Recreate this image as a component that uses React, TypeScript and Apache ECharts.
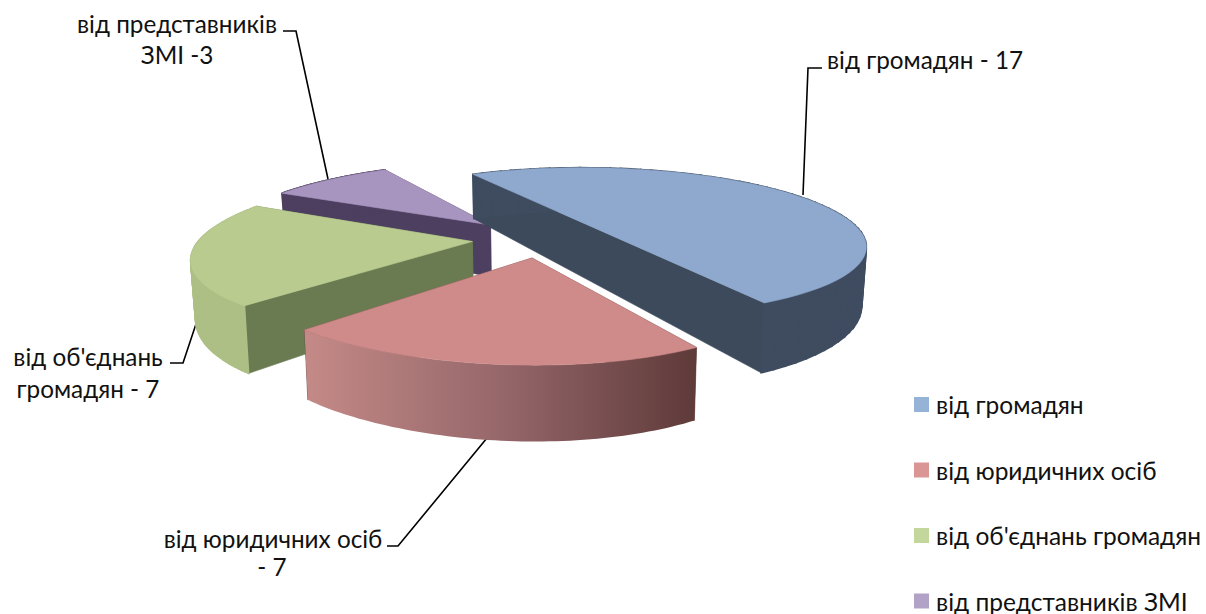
import React, { useEffect, useRef } from "react";
import * as echarts from "echarts";

const categories = ["від громадян", "від юридичних осіб", "від об'єднань громадян", "від представників ЗМІ"];
const seriesValues = [17, 7, 7, 3];

// Look of each slice: top face, radial wall, legend swatch
const topColors = ["#8ea9cd", "#cf8b89", "#b9cb8f", "#a895bf"];
const sideColors = ["#3c4a5c", "#6b4342", "#6a7b52", "#4d3f60"];
const legendColors = ["#95b3d7", "#d99694", "#c3d69b", "#b2a2c7"];

// Scene geometry (world units), slices drawn back to front
const drawOrder = [3, 0, 2, 1];
const explodeX = [0.168, -0.026, -0.232, -0.18];
const explodeZ = [-0.09, 0.308, 0.125, -0.08];
const radiusStart = [0.935, 0.84, 0.86, 1.0];
const radiusEnd = [0.935, 0.853, 0.99, 1.05];
const radiusBulge = [0.042, -0.015, 0, 0];
const wallGains = [0.198, 0.184, 0.19, 0.188];
const startAngle = -120;
const vanishX = 540;
const horizonY = -50;
const t0 = 0.003556;
const depthGain = 0.001004;
const wallShrink = 0.014;

const total = seriesValues.reduce((a, b) => a + b, 0);
const boundaries: number[] = [startAngle];
seriesValues.forEach((v, i) => boundaries.push(boundaries[i] + (v / total) * 360));

function project(X: number, Z: number, wall: number | null): number[] {
  const s = 1 / (t0 - depthGain * Z);
  if (wall === null) return [vanishX + s * X, horizonY + s];
  return [vanishX + s * (1 - wallShrink) * X, horizonY + s * (1 + wall)];
}

function renderSlice(index: number) {
  return (_params: any, api: any) => {
    const frac = api.value(0) / total;
    const a0 = boundaries[index];
    const a1 = a0 + frac * 360;
    const ex = explodeX[index];
    const ez = explodeZ[index];
    const wall = wallGains[index];
    const steps = 64;
    const pt = (u: number, w: number | null) => {
      const t = ((a0 + (a1 - a0) * u) * Math.PI) / 180;
      const r =
        radiusStart[index] +
        (radiusEnd[index] - radiusStart[index]) * u +
        radiusBulge[index] * Math.sin(Math.PI * Math.pow(u, 1.5));
      return project(ex + r * Math.cos(t), ez + r * Math.sin(t), w);
    };
    const arcTop: number[][] = [];
    const arcBot: number[][] = [];
    for (let i = 0; i <= steps; i++) {
      arcTop.push(pt(i / steps, null));
      arcBot.push(pt(i / steps, wall));
    }
    const cTop = project(ex, ez, null);
    const cBot = project(ex, ez, wall);
    const side = sideColors[index];
    const poly = (points: number[][], fill: any, lineWidth = 0.6) => ({
      type: "polygon",
      shape: { points },
      style: { fill, stroke: typeof fill === "string" ? fill : undefined, lineWidth },
      silent: true,
    });
    const walls =
      frac >= 0.4
        ? [poly([arcTop[0], cTop, arcTop[steps], arcBot[steps], cBot, arcBot[0]], side)]
        : [
            poly([cTop, arcTop[0], arcBot[0], cBot], side),
            poly([cTop, arcTop[steps], arcBot[steps], cBot], side),
          ];
    let outer: any[];
    if (index === 1) {
      // the front slice never turns its wall away, one shaded band is enough
      outer = [
        poly(
          [...arcTop, ...[...arcBot].reverse()],
          new echarts.graphic.LinearGradient(0, 0, 1, 0, [
            { offset: 0, color: "#c48a87" },
            { offset: 0.5, color: "#96676a" },
            { offset: 1, color: "#5e3a39" },
          ])
        ),
      ];
    } else {
      const fill = index === 2 ? "#adbf85" : index === 0 ? "#3f4c60" : side;
      outer = [];
      for (let i = 0; i < steps; i++) {
        outer.push(poly([arcTop[i], arcTop[i + 1], arcBot[i + 1], arcBot[i]], fill, 1.6));
      }
    }
    return {
      type: "group",
      children: [...walls, ...outer, poly([cTop, ...arcTop], topColors[index])],
    };
  };
}

const TEXT_FONT = "Lato";
const LABEL_SIZE = 24.3;
const LEGEND_SIZE = 24.5;

export default function App() {
  const ref = useRef<HTMLDivElement>(null);
  useEffect(() => {
    const chart = echarts.init(ref.current!, undefined, { renderer: "svg" });
    const label = (text: string, x: number, y: number, align = "center") => ({
      type: "text",
      x,
      y,
      silent: true,
      style: { text, fill: "#111", font: `${LABEL_SIZE}px "${TEXT_FONT}"`, textAlign: align, textVerticalAlign: "middle" },
    });
    const leader = (points: number[][]) => ({
      type: "polyline",
      silent: true,
      shape: { points },
      style: { stroke: "#000", lineWidth: 1.6, fill: "none" },
    });
    chart.setOption({
      animation: false,
      backgroundColor: "#fff",
      legend: {
        orient: "vertical",
        left: 914,
        top: 392,
        height: 300,
        icon: "rect",
        itemWidth: 15,
        itemHeight: 15,
        itemGap: 40.5,
        data: categories,
        selectedMode: false,
        textStyle: { fontFamily: TEXT_FONT, fontSize: LEGEND_SIZE, color: "#111", padding: [0, 0, 0, 2] },
        padding: 0,
      },
      series: drawOrder.map((i) => ({
        type: "custom",
        name: categories[i],
        coordinateSystem: "none",
        itemStyle: { color: legendColors[i] },
        renderItem: renderSlice(i),
        data: [[seriesValues[i]]],
        silent: true,
      })),
      graphic: [
        leader([[803, 195], [808, 68], [822, 68]]),
        leader([[283, 31], [296, 31], [328, 179]]),
        leader([[198, 318], [183, 363], [170, 363]]),
        leader([[487, 438], [398, 546], [387, 546]]),
        label(`${categories[0]} - ${seriesValues[0]}`, 827, 59, "left"),
        label("від представників", 177, 23),
        label(`ЗМІ -${seriesValues[3]}`, 177, 54),
        label("від об'єднань", 88, 356),
        label(`громадян - ${seriesValues[2]}`, 88, 388),
        label("від юридичних осіб", 273, 538),
        label(`- ${seriesValues[1]}`, 272, 566),
      ],
    });
    return () => chart.dispose();
  }, []);
  return <div ref={ref} style={{ position: "absolute", left: 0, top: 0, width: 1206, height: 614 }} />;
}
